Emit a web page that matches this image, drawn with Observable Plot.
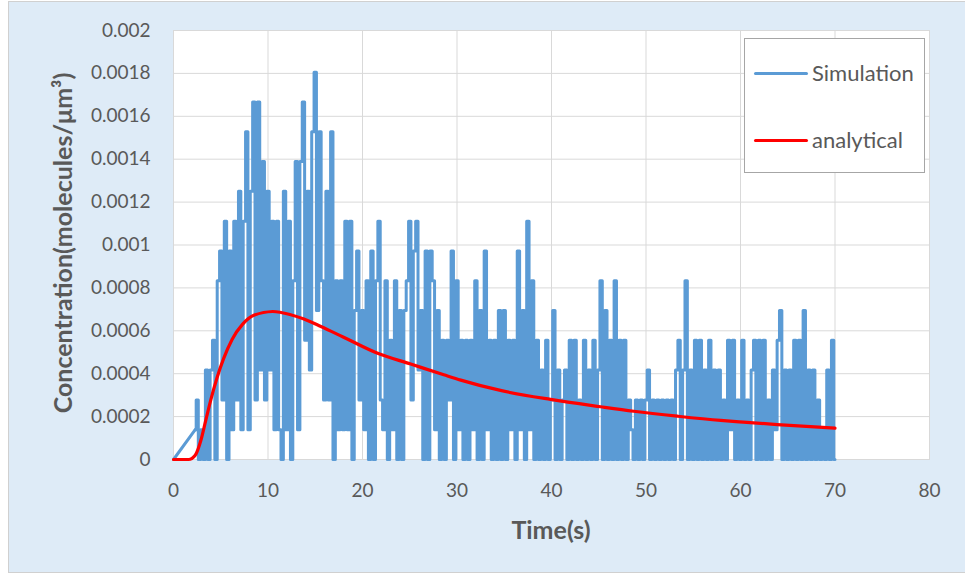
<!DOCTYPE html>
<html>
<head>
<meta charset="utf-8">
<script src="https://cdn.jsdelivr.net/npm/d3@7"></script>
<script src="https://cdn.jsdelivr.net/npm/@observablehq/plot@0.6"></script>
<style>
  html, body { margin: 0; padding: 0; background: #ffffff; }
  #wrap { position: relative; width: 965px; height: 578px; overflow: hidden; font-family: Lato, "Open Sans", sans-serif; color: #595959; }
  #bg { position: absolute; left: 8px; top: 1px; width: 970px; height: 572px; background: #deebf7; border: 1.5px solid #d0d0d0; box-sizing: border-box; }
  #chart { position: absolute; left: 0; top: 0; }
  #ytitle { position: absolute; left: 62px; top: 243px; transform: translate(-50%, -50%) rotate(-90deg); font-weight: bold; font-size: 25px; white-space: nowrap; }
  #xtitle { position: absolute; left: 551px; top: 529px; transform: translate(-50%, -50%); font-weight: bold; font-size: 25px; white-space: nowrap; }
  #legend { position: absolute; left: 744px; top: 38px; width: 181px; height: 135px; box-sizing: border-box; background: #ffffff; border: 1px solid #a6a6a6; }
  .lline { position: absolute; left: 9px; width: 54px; height: 3px; border-radius: 1.5px; }
  .ltext { position: absolute; left: 67px; font-size: 22px; white-space: nowrap; line-height: 30px; }
</style>
</head>
<body>
<div id="wrap">
  <div id="bg"></div>
  <div id="chart"></div>
  <div id="ytitle">Concentration(molecules/μm³)</div>
  <div id="xtitle">Time(s)</div>
  <div id="legend"></div>
</div>
<script>
// ---- Data ----
const xTicks = [0, 10, 20, 30, 40, 50, 60, 70, 80];
const yTicks = [0, 0.0002, 0.0004, 0.0006, 0.0008, 0.001, 0.0012, 0.0014, 0.0016, 0.0018, 0.002];
const yTickLabels = ["0", "0.0002", "0.0004", "0.0006", "0.0008", "0.001", "0.0012", "0.0014", "0.0016", "0.0018", "0.002"];

const seriesNames = ["Simulation", "analytical"];
const seriesColors = ["#5b9bd5", "#ff0000"];

// Analytical curve: time (s) and concentration (molecules/µm³)
const analyticalTime = [0, 1, 1.6, 2.3, 2.9, 3.4, 3.9, 4.6, 5.3, 6.2, 7.3, 8.5, 10.5, 12.4, 13.8, 15.6, 18.0, 21.6, 25.1, 28.6, 30.4, 34.6, 39.9, 45.2, 48.7, 53.3, 57.9, 60.3, 63.9, 67.4, 70];
const analyticalConc = [0, 0, 0, 0.00002, 0.00009, 0.00018, 0.00027, 0.00038, 0.00047, 0.00056, 0.00063, 0.000672, 0.00069, 0.000675, 0.000655, 0.00062, 0.00057, 0.000495, 0.000445, 0.000395, 0.00037, 0.000322, 0.00028, 0.000246, 0.000225, 0.000202, 0.000182, 0.000174, 0.000163, 0.000153, 0.000146];

// Simulation: concentration comes in discrete molecule-count levels
const simLevel = 0.0001389;          // concentration of one molecule
const simLeadTime = [0, 2.3];        // first two samples
const simLeadCount = [0, 1];
const simStart = 2.5, simStep = 0.25; // regular sampling afterwards
const simCount = [
  2,0,
  1,0,3,0,   3,4,0,6,   7,2,8,0,   7,1,8,2,   9,1,8,11,  1,9,12,2,  12,3,10,2,
  9,3,8,1,   8,1,0,9,   1,8,0,6,   10,1,10,12, 4,9,3,11, 13,5,11,6, 2,9,2,11,
  0,6,1,6,   1,8,1,8,   0,5,7,2,   5,1,6,0,   7,0,6,8,   2,1,6,0,   4,1,6,0,
  5,0,5,6,   8,2,7,8,   3,5,0,7,   0,7,6,1,   5,0,4,0,   4,2,7,0,   6,1,4,0,
  4,0,4,1,   6,0,5,0,   7,1,4,0,   4,0,5,0,   5,0,4,1,   4,0,7,1,   5,0,8,1,
  6,0,4,0,   3,0,4,0,   2,5,0,3,   0,2,3,0,   4,0,4,0,   2,0,4,0,   3,0,4,0,
  3,6,0,5,   0,4,0,6,   0,4,0,4,   0,2,1,0,   2,0,2,0,   2,3,0,2,   0,2,0,2,
  0,2,0,2,   0,3,4,0,   3,6,0,3,   0,4,0,4,   0,3,0,4,   0,3,0,3,   0,2,0,4,
  1,4,0,2,   0,4,0,2,   0,3,4,0,   4,0,4,0,   2,0,3,1,   4,5,0,3,   0,3,0,4,
  0,4,0,5,   0,3,0,3,   0,2,0,1,   0,3,0,4,
  0
];

// ---- Build tables ----
const leadData = simLeadTime.map((t, i) => ({t, c: simLeadCount[i] * simLevel}));
const simData = [
  leadData[leadData.length - 1],
  ...simCount.map((k, i) => ({t: simStart + i * simStep, c: k * simLevel}))
];
const anaData = analyticalTime.map((t, i) => ({t, c: analyticalConc[i]}));

const grid = "#d9d9d9";
const textColor = "#595959";

const chart = Plot.plot({
  width: 965,
  height: 578,
  marginLeft: 173,
  marginRight: 36,
  marginTop: 30,
  marginBottom: 119,
  style: {background: "transparent", fontFamily: "Lato, 'Open Sans', sans-serif", overflow: "visible"},
  x: {domain: [0, 80]},
  y: {domain: [0, 0.002]},
  marks: [
    Plot.frame({fill: "#ffffff", stroke: "none"}),
    Plot.gridX(xTicks, {stroke: grid, strokeOpacity: 1, strokeWidth: 1}),
    Plot.gridY(yTicks, {stroke: grid, strokeOpacity: 1, strokeWidth: 1}),
    Plot.frame({stroke: grid, strokeWidth: 1}),
    Plot.axisX(xTicks, {tickSize: 0, tickPadding: 24, fontSize: 19, fill: textColor, label: null}),
    Plot.axisY(yTicks, {tickSize: 0, tickPadding: 23, fontSize: 19, fill: textColor, label: null,
      tickFormat: d => yTickLabels[yTicks.indexOf(d)]}),
    Plot.line(leadData, {x: "t", y: "c", stroke: seriesColors[0], strokeWidth: 3, strokeLinecap: "round"}),
    Plot.line(simData, {x: "t", y: "c", stroke: seriesColors[0], strokeWidth: 3, curve: "step", strokeLinejoin: "round", strokeLinecap: "round"}),
    Plot.line(anaData, {x: "t", y: "c", stroke: seriesColors[1], strokeWidth: 3.2, curve: "monotone-x", strokeLinejoin: "round"})
  ]
});
document.getElementById("chart").appendChild(chart);

// ---- Legend (HTML) ----
const legend = document.getElementById("legend");
const rowCenters = [34, 101];
seriesNames.forEach((name, i) => {
  const line = document.createElement("div");
  line.className = "lline";
  line.style.top = (rowCenters[i] - 1.5) + "px";
  line.style.background = seriesColors[i];
  legend.appendChild(line);
  const txt = document.createElement("div");
  txt.className = "ltext";
  txt.style.top = (rowCenters[i] - 15) + "px";
  txt.textContent = name;
  legend.appendChild(txt);
});
</script>
</body>
</html>
